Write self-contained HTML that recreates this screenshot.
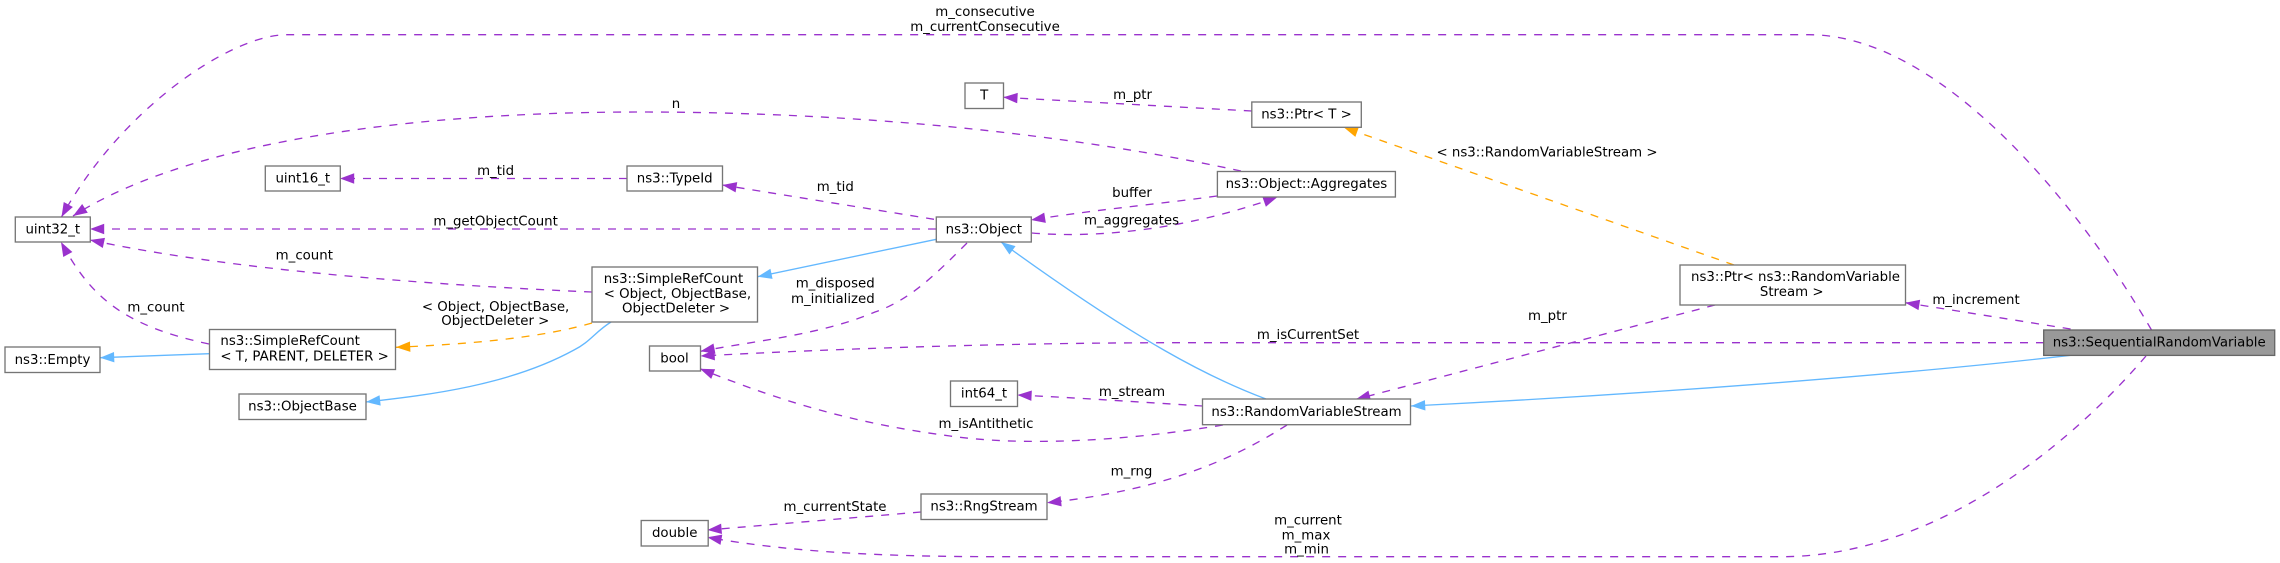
<!DOCTYPE html>
<html>
<head>
<meta charset="utf-8">
<style>
html,body{margin:0;padding:0;background:#fff;width:2280px;height:563px;overflow:hidden}
svg{display:block}
text{font-family:"DejaVu Sans",sans-serif;font-size:13.33px;fill:#000;text-anchor:middle}
text.s{text-anchor:start}
text.e{text-anchor:end}
.b{fill:#fff;stroke:#757575;stroke-width:1.33}
.p,.o,.u{fill:none;stroke-width:1.33}
.p{stroke:#9a32cd;stroke-dasharray:8 8}
.o{stroke:#ffa500;stroke-dasharray:8 8}
.u{stroke:#63b8ff}
</style>
</head>
<body>
<svg width="2280" height="563" viewBox="0 0 2280 563" xmlns="http://www.w3.org/2000/svg">
<defs>
<marker id="mp" markerUnits="userSpaceOnUse" markerWidth="16" markerHeight="12" refX="14.5" refY="6" orient="auto"><path d="M0.3,0.8 L14.5,6 L0.3,11.2 Z" fill="#9a32cd"/></marker>
<marker id="mo" markerUnits="userSpaceOnUse" markerWidth="16" markerHeight="12" refX="14.5" refY="6" orient="auto"><path d="M0.3,0.8 L14.5,6 L0.3,11.2 Z" fill="#ffa500"/></marker>
<marker id="mu" markerUnits="userSpaceOnUse" markerWidth="16" markerHeight="12" refX="14.5" refY="6" orient="auto"><path d="M0.3,0.8 L14.5,6 L0.3,11.2 Z" fill="#63b8ff"/></marker>
</defs>

<!-- edges -->
<path class="p" marker-end="url(#mp)" d="M2151.5,330 C2078,203 1940,34.7 1809,34.7 L287,34.7 C230,34.7 120,110 61.5,217"/>
<path class="p" marker-end="url(#mp)" d="M1241,171 C1060,132 850,112 640,112 C440,112 200,135 73,216"/>
<path class="p" marker-end="url(#mp)" d="M627,178.5 L340,178.5"/>
<path class="p" marker-end="url(#mp)" d="M934,219.3 L722.4,185"/>
<path class="p" marker-end="url(#mp)" d="M936,229 L90,229"/>
<path class="p" marker-end="url(#mp)" d="M592,292 C430,285 230,270 90,240"/>
<path class="p" marker-end="url(#mp)" d="M209,344 C120,325 90,295 61,242"/>
<path class="u" marker-end="url(#mu)" d="M209.3,353.7 L100,357.7"/>
<path class="o" marker-end="url(#mo)" d="M592,323 C540,338 470,344 396,347.3"/>
<path class="u" marker-end="url(#mu)" d="M611,322 C595,332 590,342 574,350 C510,385 430,395 366,402"/>
<path class="u" marker-end="url(#mu)" d="M936.3,239.3 L757.6,276.7"/>
<path class="p" marker-end="url(#mp)" d="M967,243 C935,275 910,300 875,312 C820,335 760,340 700.5,351.3"/>
<path class="p" marker-end="url(#mp)" d="M2044,342.7 L1180,342.7 C1020,342.7 850,348 700.5,356"/>
<path class="u" marker-end="url(#mu)" d="M1266,399 C1210,378 1140,343 1001,242"/>
<path class="p" marker-end="url(#mp)" d="M1032,233 C1090,238 1180,232 1277.5,197"/>
<path class="p" marker-end="url(#mp)" d="M1217,196 C1160,204 1100,209 1031,220"/>
<path class="p" marker-end="url(#mp)" d="M1251.8,111 L1003.3,97.3"/>
<path class="o" marker-end="url(#mo)" d="M1734,265 L1343.7,127.3"/>
<path class="p" marker-end="url(#mp)" d="M1715,305 L1356,399.3"/>
<path class="p" marker-end="url(#mp)" d="M2070.6,329 L1905.3,302.7"/>
<path class="u" marker-end="url(#mu)" d="M2070.6,355.3 C1900,375 1650,394 1411,406"/>
<path class="p" marker-end="url(#mp)" d="M1202.5,406 C1140,402 1080,398 1017.4,395"/>
<path class="p" marker-end="url(#mp)" d="M1223,425 C1120,442 1020,446 950,436 C860,424 790,405 700,368.7"/>
<path class="p" marker-end="url(#mp)" d="M1287,425 C1240,455 1170,490 1047,502.7"/>
<path class="p" marker-end="url(#mp)" d="M921,512 L707.4,530"/>
<path class="p" marker-end="url(#mp)" d="M2146,356 C2070,445 1935,557 1780,556.7 L1000,556.7 C880,556.7 790,552 707.4,537.3"/>

<!-- nodes -->
<rect class="b" x="15.3" y="217" width="75" height="25"/>
<text x="52.8" y="233.5">uint32_t</text>
<rect class="b" x="265.3" y="166" width="75" height="25"/>
<text x="302.8" y="182.5">uint16_t</text>
<rect class="b" x="627" y="166" width="95.5" height="25"/>
<text x="674.7" y="182.5">ns3::TypeId</text>
<rect class="b" x="965" y="83" width="38.5" height="25.5"/>
<text x="984.2" y="99.5">T</text>
<rect class="b" x="936.3" y="217" width="95" height="25"/>
<text x="983.8" y="233.5">ns3::Object</text>
<rect class="b" x="592" y="267" width="165.5" height="55"/>
<text class="s" x="603.7" y="283">ns3::SimpleRefCount</text>
<text class="s" x="603.7" y="298">&lt; Object, ObjectBase,</text>
<text x="676" y="312.7">ObjectDeleter &gt;</text>
<rect class="b" x="209.5" y="329.5" width="186" height="40"/>
<text class="s" x="220.4" y="345">ns3::SimpleRefCount</text>
<text class="s" x="220.4" y="360.3">&lt; T, PARENT, DELETER &gt;</text>
<rect class="b" x="5" y="347" width="95" height="25.5"/>
<text x="52.5" y="364">ns3::Empty</text>
<rect class="b" x="239" y="394" width="127" height="25.5"/>
<text x="302.5" y="410.5">ns3::ObjectBase</text>
<rect class="b" x="649.5" y="346" width="51" height="25"/>
<text x="674.5" y="362.5">bool</text>
<rect class="b" x="950.5" y="381" width="67" height="25.5"/>
<text x="984" y="397.5">int64_t</text>
<rect class="b" x="921" y="494" width="126" height="25.5"/>
<text x="984" y="510.5">ns3::RngStream</text>
<rect class="b" x="641.2" y="520.5" width="67" height="25.5"/>
<text x="674.7" y="537">double</text>
<rect class="b" x="1251.8" y="102" width="109.5" height="25.3"/>
<text x="1306.5" y="118.5">ns3::Ptr&lt; T &gt;</text>
<rect class="b" x="1217.4" y="171.5" width="178" height="25.5"/>
<text x="1306.4" y="188">ns3::Object::Aggregates</text>
<rect class="b" x="1680" y="265" width="225.5" height="40"/>
<text class="s" x="1691" y="281">ns3::Ptr&lt; ns3::RandomVariable</text>
<text x="1791.7" y="296">Stream &gt;</text>
<rect class="b" x="1202.5" y="399" width="208" height="25.7"/>
<text x="1306.5" y="416">ns3::RandomVariableStream</text>
<rect x="2043.7" y="330" width="231" height="25.4" fill="#999" stroke="#666" stroke-width="1.33"/>
<text x="2159.2" y="346.5">ns3::SequentialRandomVariable</text>

<!-- edge labels -->
<text x="985" y="16">m_consecutive</text>
<text x="985" y="31">m_currentConsecutive</text>
<text x="676" y="108">n</text>
<text x="1132.6" y="99">m_ptr</text>
<text x="495.6" y="175">m_tid</text>
<text x="495.6" y="225.3">m_getObjectCount</text>
<text x="304.3" y="259.3">m_count</text>
<text x="156" y="311.3">m_count</text>
<text x="495.6" y="311">&lt; Object, ObjectBase,</text>
<text x="495.3" y="325">ObjectDeleter &gt;</text>
<text x="835.3" y="191">m_tid</text>
<text x="1132" y="197">buffer</text>
<text x="1131.5" y="224.3">m_aggregates</text>
<text class="e" x="874.7" y="287.3">m_disposed</text>
<text class="e" x="874.7" y="303">m_initialized</text>
<text x="1547" y="156.7">&lt; ns3::RandomVariableStream &gt;</text>
<text x="1547.4" y="320">m_ptr</text>
<text x="1308" y="339">m_isCurrentSet</text>
<text x="1976" y="304">m_increment</text>
<text x="1132" y="396">m_stream</text>
<text x="986" y="428">m_isAntithetic</text>
<text x="1131.5" y="475.3">m_rng</text>
<text x="835" y="511">m_currentState</text>
<text x="1308" y="524.3">m_current</text>
<text x="1306" y="539.3">m_max</text>
<text x="1306.5" y="553.5">m_min</text>
</svg>
</body>
</html>
